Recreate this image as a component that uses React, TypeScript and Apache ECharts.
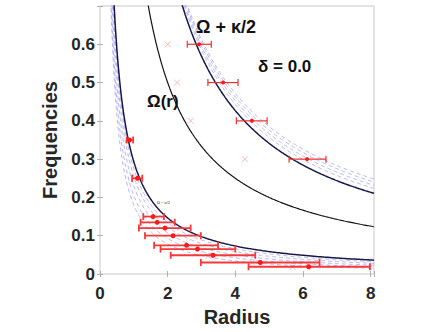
import React, { useEffect, useRef } from "react";
import * as echarts from "echarts";

// Theory curves: f = c / r^p  (coefficients)
const omegaCurve = { c: 1.0, p: 1.0 };
const upperCurve = { c: 1.707, p: 1.0 }; // Omega + kappa/2
const lowerCurve = { c: 0.293, p: 1.0 }; // Omega - kappa/2
const upperDashC = [1.70, 1.69, 1.68, 1.665];
const upperDashP = [0.97, 0.95, 0.93, 0.91];
const lowerDashC = [0.18, 0.205, 0.23, 0.255, 0.275];
const lowerDashP = [1.2, 1.14, 1.1, 1.06, 1.03];

// Measured points with horizontal error bars
const upR = [2.93, 3.64, 4.49, 6.12];
const upF = [0.6, 0.5, 0.4, 0.3];
const upLo = [2.58, 3.19, 4.03, 5.59];
const upHi = [3.29, 4.08, 4.94, 6.68];

const lowR = [0.87, 1.11, 1.57, 1.69, 1.92, 2.16, 2.56, 2.88, 3.34, 4.74, 6.17];
const lowF = [0.35, 0.25, 0.15, 0.135, 0.12, 0.1, 0.075, 0.065, 0.049, 0.03, 0.019];
const lowLo = [0.79, 0.95, 1.28, 1.2, 1.15, 1.33, 1.6, 1.79, 2.09, 2.98, 4.39];
const lowHi = [0.98, 1.25, 1.89, 2.21, 2.68, 2.98, 3.49, 4.0, 4.59, 6.49, 7.98];

// Faint cross markers
const crossR = [2.0, 2.28, 2.68, 4.28, 3.2, 4.5, 5.69];
const crossF = [0.6, 0.5, 0.4, 0.3, 0.048, 0.03, 0.0185];

const xTicks = [0, 2, 4, 6, 8];
const yTicks = [0, 0.1, 0.2, 0.3, 0.4, 0.5, 0.6];

const FONT = "'Liberation Sans', Arial, Helvetica, sans-serif";

function curve(c: number, p: number): number[][] {
  const pts: number[][] = [];
  for (let i = 0; i <= 400; i++) {
    const r = 0.1 + i * 0.02;
    pts.push([r, c / Math.pow(r, p)]);
  }
  return pts;
}

function errorSeries(r: number[], f: number[], lo: number[], hi: number[], lw: number, dot: number, color: string) {
  return {
    type: "custom",
    silent: true,
    z: 5,
    data: r.map((v, i) => [v, f[i], lo[i], hi[i]]),
    encode: { x: [0, 2, 3], y: 1 },
    renderItem: (_params: any, api: any) => {
      const c = api.coord([api.value(0), api.value(1)]);
      const a = api.coord([api.value(2), api.value(1)]);
      const b = api.coord([api.value(3), api.value(1)]);
      const h = 3.5;
      const st = { stroke: color, lineWidth: lw };
      return {
        type: "group",
        children: [
          { type: "line", shape: { x1: a[0], y1: a[1], x2: b[0], y2: b[1] }, style: st },
          { type: "line", shape: { x1: a[0], y1: a[1] - h, x2: a[0], y2: a[1] + h }, style: st },
          { type: "line", shape: { x1: b[0], y1: b[1] - h, x2: b[0], y2: b[1] + h }, style: st },
          { type: "circle", shape: { cx: c[0], cy: c[1], r: dot }, style: { fill: "#ff1a1a" } },
        ],
      };
    },
  };
}

export default function App() {
  const ref = useRef<HTMLDivElement>(null);
  useEffect(() => {
    const chart = echarts.init(ref.current!, undefined, { renderer: "svg" });
    const series: any[] = [];
    upperDashC.forEach((c, i) =>
      series.push({
        type: "line", data: curve(c, upperDashP[i]), showSymbol: false, silent: true,
        lineStyle: { color: "#8c8cf0", width: 0.8, type: [4, 3], opacity: 0.8 }, z: 2,
      })
    );
    lowerDashC.forEach((c, i) =>
      series.push({
        type: "line", data: curve(c, lowerDashP[i]), showSymbol: false, silent: true,
        lineStyle: { color: "#8c8cf0", width: 0.8, type: [4, 3], opacity: 0.8 }, z: 2,
      })
    );
    series.push({
      type: "line", data: curve(omegaCurve.c, omegaCurve.p), showSymbol: false, silent: true,
      lineStyle: { color: "#111111", width: 1.2 }, z: 3,
    });
    series.push({
      type: "line", data: curve(upperCurve.c, upperCurve.p), showSymbol: false, silent: true,
      lineStyle: { color: "#16164a", width: 1.5 }, z: 3,
    });
    series.push({
      type: "line", data: curve(lowerCurve.c, lowerCurve.p), showSymbol: false, silent: true,
      lineStyle: { color: "#16164a", width: 1.5 }, z: 3,
    });
    series.push({
      type: "scatter", silent: true, z: 4,
      data: crossR.map((r, i) => [r, crossF[i]]),
      symbol: "path://M0,0L10,10M10,0L0,10",
      symbolSize: 6,
      itemStyle: { color: "none", borderColor: "#f2a0a0", borderWidth: 0.9 },
    });
    series.push(errorSeries(upR, upF, upLo, upHi, 1.2, 2, "#f03030"));
    series.push(errorSeries(lowR, lowF, lowLo, lowHi, 1.8, 2.5, "#f23a3a"));

    const tickLabel = {
      fontFamily: FONT, fontWeight: "bold" as const, fontSize: 17, color: "#262626",
    };
    chart.setOption({
      animation: false,
      grid: { left: 100, top: 6, right: 55, bottom: 51, show: true, borderColor: "#c8c8c8", borderWidth: 1 },
      xAxis: [
        {
          type: "value", min: 0, max: 8.1, interval: 2,
          name: "Radius", nameLocation: "middle", nameGap: 33,
          nameTextStyle: { fontFamily: FONT, fontWeight: "bold", fontSize: 20, color: "#262626" },
          axisLine: { show: false },
          axisTick: { show: true, inside: true, length: 3, lineStyle: { color: "#b0b0b0" } },
          splitLine: { show: false },
          axisLabel: {
            ...tickLabel, margin: 11,
            formatter: (v: number) => (xTicks.some((t) => Math.abs(t - v) < 1e-6) ? String(Math.round(v)) : ""),
          },
        },
        {
          type: "value", position: "top", min: 0, max: 8.1, interval: 2,
          axisLine: { show: false }, axisLabel: { show: false }, splitLine: { show: false },
          axisTick: { show: true, inside: true, length: 3, lineStyle: { color: "#b0b0b0" } },
        },
      ],
      yAxis: [
        {
          type: "value", min: 0, max: 0.7, interval: 0.1,
          name: "Frequencies", nameLocation: "middle", nameGap: 38,
          nameTextStyle: { fontFamily: FONT, fontWeight: "bold", fontSize: 20, color: "#262626" },
          axisLine: { show: false },
          axisTick: { show: true, inside: true, length: 3, lineStyle: { color: "#b0b0b0" } },
          splitLine: { show: false },
          axisLabel: {
            ...tickLabel, margin: 5,
            formatter: (v: number) => {
              const t = yTicks.find((y) => Math.abs(y - v) < 1e-6);
              return t === undefined ? "" : t === 0 ? "0" : t.toFixed(1);
            },
          },
        },
        {
          type: "value", position: "right", min: 0, max: 0.7, interval: 0.1,
          axisLine: { show: false }, axisLabel: { show: false }, splitLine: { show: false },
          axisTick: { show: true, inside: true, length: 3, lineStyle: { color: "#b0b0b0" } },
        },
      ],
      graphic: [
        { type: "text", left: 196, top: 18, style: { text: "Ω + κ/2", font: `bold 18px ${FONT}`, fill: "#111" }, z: 10 },
        { type: "text", left: 258, top: 58, style: { text: "δ = 0.0", font: `bold 17px ${FONT}`, fill: "#111" }, z: 10 },
        { type: "text", left: 147, top: 93, style: { text: "Ω(r)", font: `bold 17px ${FONT}`, fill: "#111" }, z: 10 },
        { type: "text", left: 157, top: 200, style: { text: "Ω − κ/2", font: `4px ${FONT}`, fill: "#333" }, z: 10 },
      ],
      series,
    });
    return () => chart.dispose();
  }, []);
  return <div ref={ref} style={{ position: "fixed", left: 0, top: 0, width: 429, height: 332, background: "#fff" }} />;
}
